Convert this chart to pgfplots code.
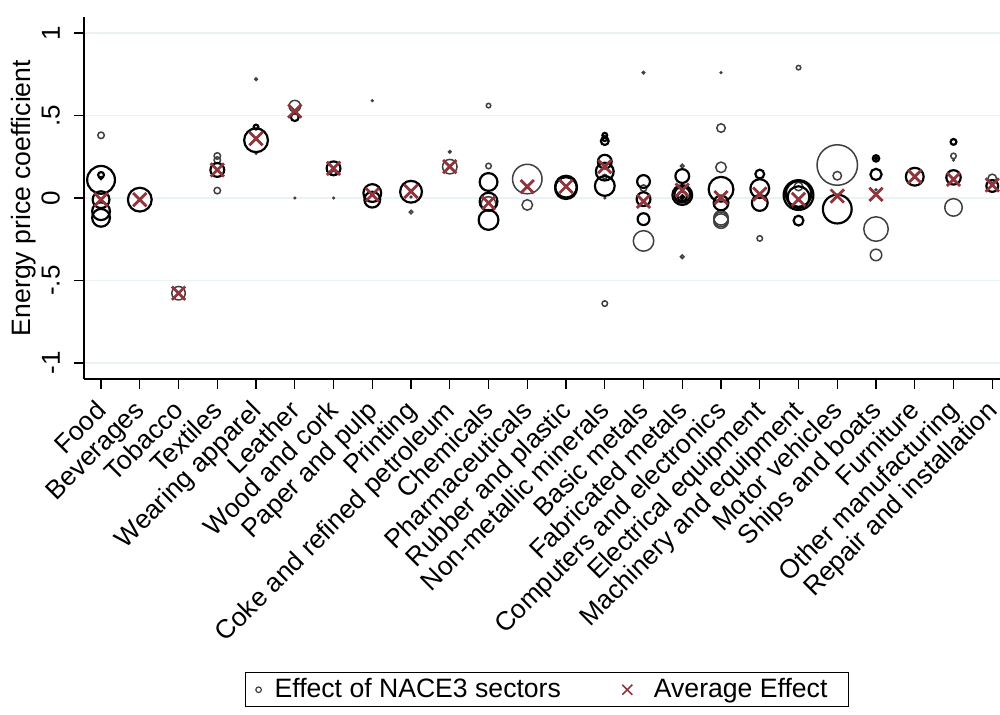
\documentclass[border=0pt]{standalone}
\usepackage{fontspec}
\setmainfont{Liberation Sans}
\usepackage{pgfplots}
\usepackage{pgfplotstable}
\pgfplotsset{compat=1.18}
\definecolor{cran}{RGB}{144,53,59}
\definecolor{gridc}{RGB}{234,242,243}
\definecolor{circg}{RGB}{64,64,64}

\pgfplotstableread{
x y r
0 0.11 15
0 0.14 4
0 0.12 1.5
0 -0.01 9.5
0 -0.08 10
0 -0.12 10
1 -0.01 13
3 0.17 8
4 0.43 3.5
4 0.35 13
5 0.49 5
6 0.18 8
7 0.03 10
7 -0.01 9
8 0.038 12
10 0.097 10
10 -0.022 10
10 -0.133 11
12 0.069 12
12 0.06 12
13 0.38 3.5
13 0.36 3.5
13 0.345 5
13 0.22 8
13 0.16 10
13 0.073 11
14 0.1 7.5
14 -0.007 8
14 -0.128 7
15 0.133 8
15 0.018 11
15 0.02 9
15 0.01 6
15 0.005 3
16 0.053 13.5
16 -0.03 8.5
17 0.145 5.5
17 0.057 10.5
17 -0.03 9
18 0.018 16
18 0.025 14
18 0.005 12
18 -0.137 6
19 -0.067 15.5
20 0.24 4.3
20 0.24 2
20 0.143 6.7
21 0.129 10
22 0.34 4
22 0.125 8.3
23 0.073 7
}\blackdata

\pgfplotstableread{
x y r
0 0.38 4
2 -0.577 7.5
3 0.255 4
3 0.23 4
3 0.045 4
4 0.72 2
4 0.27 1
5 0.557 6.5
5 0.0 0.5
6 0.15 3
6 0.0 1
7 0.59 1.5
8 0.006 1.5
8 -0.085 2.5
9 0.28 2
9 0.19 8
10 0.56 3
10 0.194 3.5
10 -0.036 8
11 0.115 15.5
11 -0.042 6
13 0.13 3
13 0.0 1
13 -0.64 3.5
14 0.76 2
14 0.06 4
14 -0.26 11
15 0.194 2.5
15 -0.356 2.5
16 0.76 1.5
16 0.424 5
16 0.186 6
16 -0.12 8
16 -0.13 8
16 -0.14 8
17 -0.245 3.5
18 0.79 3
18 0.07 5
19 0.2 21
19 0.135 5
20 0.05 1.5
20 -0.188 13
20 -0.345 6.5
22 0.255 3.5
22 0.23 1.5
22 -0.057 9.5
23 0.119 5
}\graydata

\pgfplotstableread{
x y
0 -0.01
1 -0.01
2 -0.577
3 0.17
4 0.36
5 0.527
6 0.18
7 0.02
8 0.04
9 0.19
10 -0.03
11 0.069
12 0.07
13 0.19
14 -0.02
15 0.048
16 0.002
17 0.024
18 -0.008
19 0.012
20 0.022
21 0.13
22 0.113
23 0.079
}\avgdata

\begin{document}
\begin{tikzpicture}
\begin{axis}[
  scale only axis, width=458pt, height=181pt,
  at={(0,0)}, anchor=south west,
  xmin=-0.44, xmax=23.2, ymin=-1.097, ymax=1.097,
  axis lines*=left,
  axis line style={line width=0.7pt, black},
  ytick={-1,-0.5,0,0.5,1}, yticklabels={-1,-.5,0,.5,1},
  xtick={0,1,2,3,4,5,6,7,8,9,10,11,12,13,14,15,16,17,18,19,20,21,22,23},
  xticklabels={Food,Beverages,Tobacco,Textiles,Wearing apparel,Leather,Wood and cork,Paper and pulp,Printing,Coke and refined petroleum,Chemicals,Pharmaceuticals,Rubber and plastic,Non-metallic minerals,Basic metals,Fabricated metals,Computers and electronics,Electrical equipment,Machinery and equipment,Motor vehicles,Ships and boats,Furniture,Other manufacturing,Repair and installation},
  tick align=outside, major tick length=5pt,
  tick style={black, line width=0.7pt},
  ymajorgrids, grid style={gridc, line width=0.8pt},
  yticklabel style={xshift=-3.5pt, rotate=90, anchor=south, font=\fontsize{13}{15}\selectfont},
  xticklabel style={xshift=-3.5pt, rotate=45, anchor=north east, font=\fontsize{13.2}{15}\selectfont},
  ylabel={Energy price coefficient},
  ylabel style={font=\fontsize{13.3}{15}\selectfont, at={(axis description cs:-0.0655,0.5)}, anchor=center},
  legend columns=2,
  legend style={at={(axis description cs:0,0)}, anchor=north west, xshift=80.5pt, yshift=-146.5pt,
    draw=black, line width=0.6pt, font=\fontsize{13.3}{15}\selectfont,
    inner xsep=2pt, inner ysep=1pt,
    /tikz/every even column/.append style={column sep=27.5pt}},
]
\addplot[scatter, only marks, mark=o, forget plot,
  scatter/use mapped color={draw=circg, fill=none},
  line width=0.75pt,
  visualization depends on={max(0.5*\thisrow{r}-0.375,0.35) \as \rad},
  scatter/@pre marker code/.append style={/tikz/mark size=\rad}]
  table[x=x, y=y] {\graydata};
\addplot[scatter, only marks, mark=o, forget plot,
  scatter/use mapped color={draw=black, fill=none},
  line width=1.1pt,
  visualization depends on={max(0.5*\thisrow{r}-0.55,0.4) \as \rad},
  scatter/@pre marker code/.append style={/tikz/mark size=\rad}]
  table[x=x, y=y] {\blackdata};
\addlegendimage{legend image code/.code={\path[draw=none] (0pt,0pt) rectangle (10.5pt,0pt); \draw[circg, line width=0.6pt] (4.5pt,0pt) circle (1.4pt);}}
\addlegendentry{Effect of NACE3 sectors}
\addplot[only marks, mark=x, mark size=4.7pt, color=cran, line width=1.4pt,
  legend image code/.code={\path[draw=none] (0pt,0pt) rectangle (15pt,0pt); \draw[cran, line width=0.8pt] (1.2pt,-2.5pt) -- (6.2pt,2.5pt) (1.2pt,2.5pt) -- (6.2pt,-2.5pt);}]
  table[x=x, y=y] {\avgdata};
\addlegendentry{Average Effect\kern6.5pt\null}
\end{axis}
\pgfresetboundingbox
\useasboundingbox (-42pt,-167.5pt) rectangle (458pt,189.5pt);
\end{tikzpicture}
\end{document}
